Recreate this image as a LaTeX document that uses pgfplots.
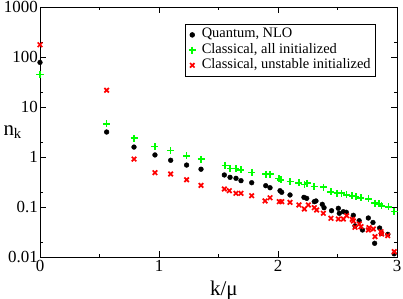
\documentclass[border=0pt]{standalone}
\usepackage{fontspec}
\setmainfont{Liberation Serif}
\usepackage{pgfplots}
\pgfplotsset{compat=1.18}
\begin{document}
\begin{tikzpicture}
\begin{axis}[
  name=ax,
  scale only axis,
  width=357bp, height=250bp,
  ymode=log,
  xmin=0, xmax=3, ymin=0.01, ymax=1000,
  xtick={0,1,2,3}, xticklabels={0,1,2,3},
  minor xtick={0.5,1.5,2.5},
  ytick={0.01,0.1,1,10,100,1000},
  yticklabels={0.01,0.1,1,10,100,1000},
  minor ytick={0.02,0.2,2,20,200},
  tick align=inside,
  major tick length=6bp, minor tick length=3bp,
  every tick/.style={black, line width=0.7bp},
  axis line style={line width=0.8bp},
  /pgf/number format/assume math mode=true,
  tick label style={font=\fontsize{17}{17}\selectfont},
  yticklabel style={inner sep=1bp, xshift=-1bp},
  xticklabel style={inner sep=1bp, yshift=-2bp},
  xlabel={k/μ},
  xlabel style={font=\fontsize{21}{21}\selectfont, at={(rel axis cs:0.515,0)}, anchor=north, yshift=-20bp},
  ylabel={n\textsubscript{k}},
  ylabel style={font=\fontsize{21}{21}\selectfont, rotate=-90, at={(rel axis cs:0,0.5)}, anchor=west, xshift=-40bp},
  legend cell align=left,
  legend image code/.code={\draw[mark repeat=2,mark phase=2] plot coordinates {(0bp,0bp) (9bp,0bp) (18bp,0bp)};},
  legend style={at={(rel axis cs:0.941,0.932)}, anchor=north east, draw=black, line width=0.6bp,
    font=\fontsize{14.5}{14.5}\selectfont, inner xsep=3bp, inner ysep=3bp, row sep=0bp, column sep=4bp,
    nodes={text height=10bp, text depth=4bp, inner ysep=0.6bp}},
  clip=false,
]
\coordinate (bl) at (rel axis cs:0,0);
\coordinate (tr) at (rel axis cs:1,1);
\addplot[only marks, mark=*, mark size=2.4bp, black, mark options={fill=black}] coordinates {
(0,78) (0.56,3.16) (0.79,1.58) (0.966,1.10) (1.098,0.86) (1.232,0.69) (1.353,0.57)
(1.549,0.437) (1.597,0.392) (1.647,0.375) (1.689,0.336) (1.779,0.306) (1.897,0.267)
(1.933,0.243) (2.017,0.212) (2.031,0.197) (2.101,0.174) (2.218,0.156) (2.241,0.149)
(2.305,0.128) (2.319,0.132) (2.372,0.113) (2.387,0.0968) (2.450,0.0843) (2.507,0.0942)
(2.515,0.0748) (2.549,0.0806) (2.574,0.0783) (2.633,0.0682) (2.647,0.042) (2.682,0.0532)
(2.710,0.0347) (2.759,0.0603) (2.798,0.049) (2.812,0.0188) (2.854,0.038) (2.868,0.0298)
(2.923,0.0284) (2.976,0.0116)
};
\addlegendentry{Quantum, NLO}
\addplot[only marks, mark=+, mark size=3.5bp, line width=1.6bp, color={rgb,255:red,0;green,255;blue,0}] coordinates {
(0,45) (0.56,4.6) (0.79,2.37) (0.966,1.61) (1.098,1.34) (1.232,1.06) (1.353,0.90)
(1.555,0.670) (1.597,0.594) (1.647,0.594) (1.689,0.55) (1.779,0.494) (1.897,0.451)
(1.933,0.451) (2.008,0.375) (2.025,0.347) (2.101,0.321) (2.176,0.306) (2.224,0.284)
(2.246,0.298) (2.303,0.255) (2.381,0.248) (2.445,0.202) (2.498,0.188) (2.535,0.188)
(2.577,0.174) (2.624,0.168) (2.653,0.161) (2.697,0.153) (2.759,0.145) (2.815,0.119)
(2.849,0.115) (2.871,0.106) (2.927,0.101) (2.977,0.0806)
};
\addlegendentry{Classical, all initialized}
\addplot[only marks, mark=x, mark size=3.2bp, line width=1.7bp, color={rgb,255:red,255;green,0;blue,0}] coordinates {
(0,176) (0.56,21.6) (0.79,0.91) (0.966,0.486) (1.098,0.457) (1.232,0.35) (1.353,0.27)
(1.549,0.229) (1.591,0.212) (1.647,0.188) (1.689,0.188) (1.779,0.168) (1.891,0.132)
(1.933,0.153) (2.011,0.128) (2.031,0.128) (2.101,0.124) (2.176,0.110) (2.221,0.0912)
(2.255,0.110) (2.305,0.0968) (2.325,0.0871) (2.381,0.0748) (2.445,0.0594) (2.507,0.0575)
(2.549,0.0575) (2.577,0.067) (2.624,0.0567) (2.633,0.0525) (2.647,0.0393) (2.683,0.0457)
(2.697,0.0404) (2.759,0.0347) (2.765,0.0386) (2.801,0.0363) (2.815,0.0255) (2.866,0.0321)
(2.871,0.0288) (2.922,0.0267) (2.977,0.0128)
};
\addlegendentry{Classical, unstable initialized}
\end{axis}
\path (bl) ++(-40bp,-42bp) coordinate (A);
\path (tr) ++(6bp,7bp) coordinate (B);
\pgfresetboundingbox
\path[use as bounding box] (A) rectangle (B);
\end{tikzpicture}
\end{document}
